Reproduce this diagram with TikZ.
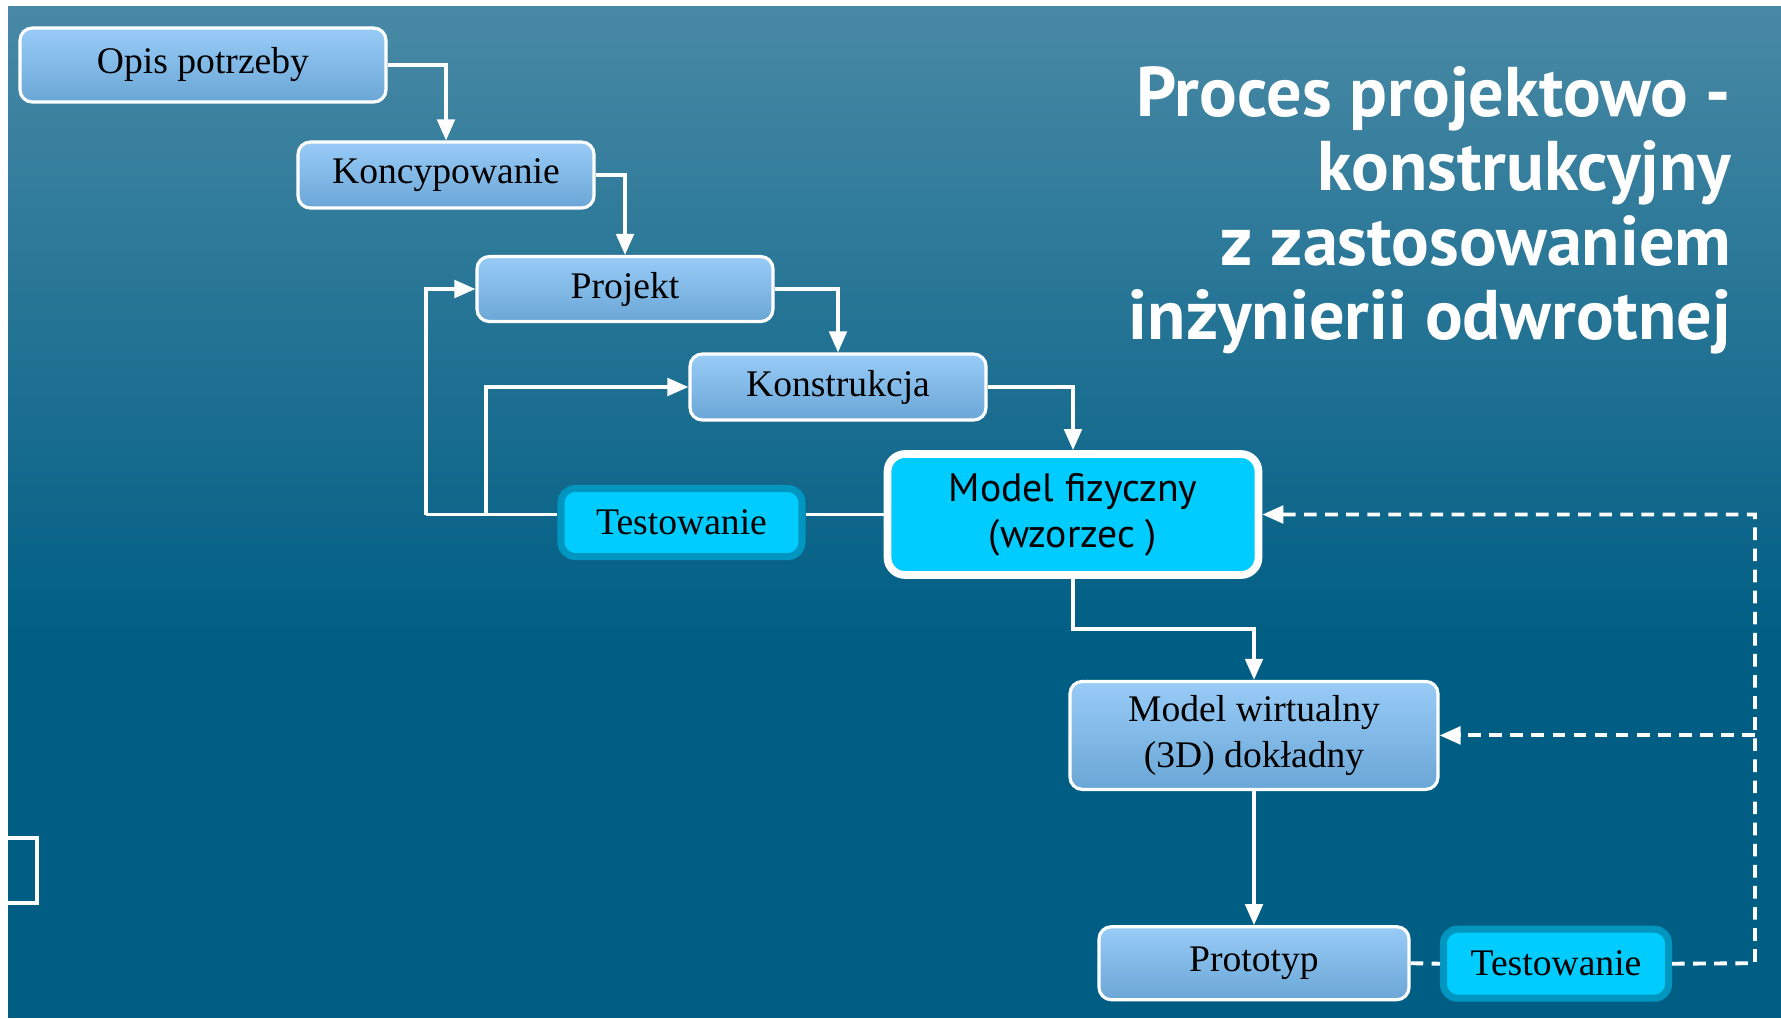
\documentclass[tikz,border=0pt]{standalone}
\usepackage{fontspec}
\setmainfont{Liberation Serif}
\newfontfamily\humfont{PT Sans}
\usetikzlibrary{arrows.meta,positioning}

\definecolor{bgtop}{RGB}{72,137,165}
\definecolor{bgbot}{RGB}{0,94,132}
\definecolor{boxtop}{RGB}{153,204,247}
\definecolor{boxbot}{RGB}{106,166,214}
\definecolor{cyanfill}{RGB}{0,204,255}
\definecolor{cyanedge}{RGB}{0,150,192}

\tikzset{
  stage/.style={draw=white, line width=0.9pt, rounded corners=3.5pt,
    top color=boxtop, bottom color=boxbot, text=black, align=center,
    inner sep=0pt, font=\fontsize{10.7}{13}\selectfont},
  testbox/.style={draw=cyanedge, line width=2pt, rounded corners=4pt,
    fill=cyanfill, text=black, inner sep=0pt, font=\fontsize{10.7}{13}\selectfont},
  physbox/.style={draw=white, line width=2.2pt, rounded corners=5pt,
    fill=cyanfill, text=black, align=center, inner sep=0pt,
    font=\humfont\fontsize{11.3}{13}\selectfont},
  link/.style={white, line width=1pt},
  flow/.style={link, -{Triangle[width=5pt,length=6pt]}},
  retline/.style={white, line width=1.1pt, dash pattern=on 3.6pt off 2.4pt},
  retflow/.style={retline, -{Triangle[width=5pt,length=6pt]}}
}

\begin{document}
\begin{tikzpicture}
    \useasboundingbox (0,0) rectangle (17.81,-10.18);
    \fill[white] (0,0) rectangle (17.81,-10.18);
    \shade[top color=bgtop, bottom color=bgbot] (0.08,-0.06) rectangle (17.81,-6.4);
    \fill[bgbot] (0.08,-6.4) rectangle (17.81,-10.18);
    \draw[white, line width=1pt] (0,-8.38) -- (0.37,-8.38) -- (0.37,-9.03) -- (0,-9.03);

    % title
    \node[anchor=north east, align=right, inner sep=0pt, text=white,
          font=\humfont\bfseries\fontsize{20}{21.1}\selectfont] (title) at (17.32,-0.66)
          {Proces projektowo -\\konstrukcyjny\\z zastosowaniem\\inżynierii odwrotnej};

    % main chain
    \node[stage, minimum width=3.66cm, minimum height=0.74cm] (opis) at (2.03,-0.65) {Opis potrzeby};
    \node[stage, minimum width=2.96cm, minimum height=0.66cm] (konc) at (4.46,-1.75) {Koncypowanie};
    \node[stage, minimum width=2.96cm, minimum height=0.65cm] (proj) at (6.25,-2.89) {Projekt};
    \node[stage, minimum width=2.96cm, minimum height=0.66cm] (konstr) at (8.38,-3.87) {Konstrukcja};
    \node[physbox, minimum width=3.71cm, minimum height=1.21cm] (model) at (10.73,-5.145) {Model fizyczny\\(wzorzec )};
    \node[testbox, minimum width=2.41cm, minimum height=0.68cm] (test) at (6.815,-5.225) {Testowanie};
    \node[stage, minimum width=3.68cm, minimum height=1.08cm] (wirt) at (12.54,-7.354) {Model wirtualny\\(3D) dokładny};
    \node[stage, minimum width=3.10cm, minimum height=0.73cm] (proto) at (12.54,-9.632) {Prototyp};
    \node[testbox, minimum width=2.25cm, minimum height=0.69cm] (test2) at (15.56,-9.637) {Testowanie};

    \draw[flow] (opis.east) -| (konc.north);
    \draw[flow] (konc.east) -| (proj.north);
    \draw[flow] (proj.east) -| (konstr.north);
    \draw[flow] (konstr.east) -| (model.north);

    % feedback from the physical model
    \coordinate (back1) at (4.26,-5.145);
    \coordinate (back2) at (4.86,-5.145);
    \draw[link] (model.west) -- (model.west -| test.east);
    \draw[link] (test.west |- model.west) -- (back1);
    \draw[flow] (back1) |- (proj.west);
    \draw[flow] (back2) |- (konstr.west);

    \draw[flow] (model.south) -- ++(0,-0.5) -| (wirt.north);
    \draw[flow] (wirt.south) -- (proto.north);

    % test loop of the prototype
    \coordinate (ret) at (17.55,-9.632);
    \draw[retline] (proto.east) -- (test2.west);
    \draw[retflow] (test2.east) -- (ret) |- (model.east);
    \draw[retflow] (ret |- wirt.east) -- (wirt.east);
\end{tikzpicture}
\end{document}
